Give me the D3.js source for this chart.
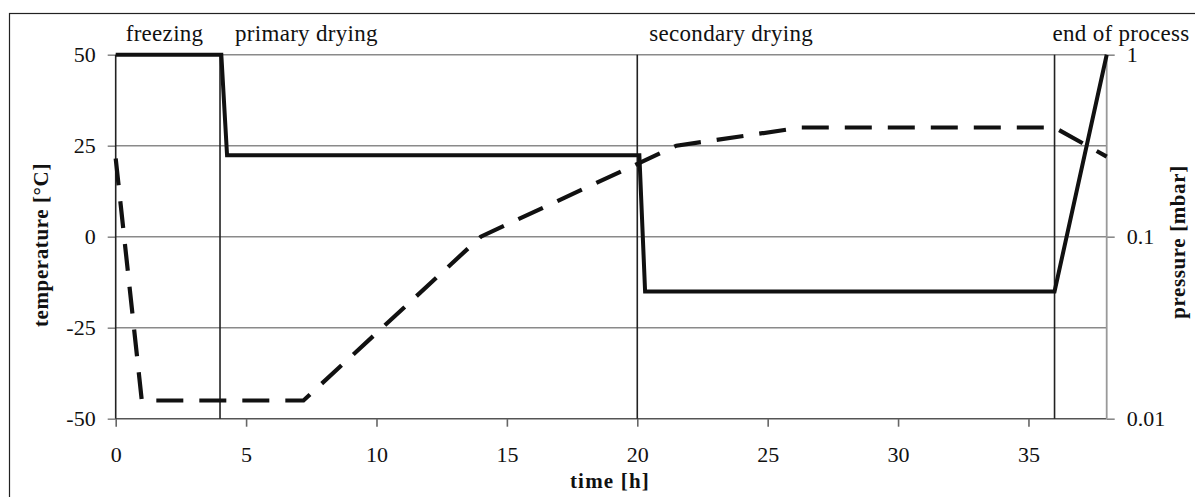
<!DOCTYPE html>
<html>
<head>
<meta charset="utf-8">
<script src="https://cdn.jsdelivr.net/npm/d3@7"></script>
<style>
  html, body { margin: 0; padding: 0; background: #fff; }
  svg { display: block; }
  text { font-family: "Liberation Serif", "Times New Roman", serif; fill: #111; }
</style>
</head>
<body>
<svg id="chart" width="1195" height="497"></svg>
<script>
// ---- data ----
const timeTicks = [0, 5, 10, 15, 20, 25, 30, 35];
const tempTicks = [-50, -25, 0, 25, 50];
const pressTicks = [0.01, 0.1, 1];
const phaseNames = ["freezing", "primary drying", "secondary drying", "end of process"];
const phaseStarts = [0, 4, 20, 36];
const phaseBounds = [4, 20, 36];

// pressure (solid line, right log axis)
const pressTime = [0, 4.05, 4.27, 20.08, 20.3, 36, 38];
const pressValue = [1, 1, 0.28, 0.28, 0.05, 0.05, 1];

// shelf temperature (dashed line, left axis)
const tempTime = [0, 1, 7.2, 14, 21.5, 26.3, 36, 38];
const tempValue = [21.5, -45, -45, 0, 25, 30, 30, 22];

// ---- layout ----
const svg = d3.select("#chart");
const L = 115.7, R = 1106.7, T = 54.7, B = 418.7;
const x = d3.scaleLinear().domain([0, 38]).range([L, R]);
const yT = d3.scaleLinear().domain([-50, 50]).range([B, T]);
const yP = d3.scaleLog().domain([0.01, 1]).range([B, T]);

const gridColor = "#8a8a8a";
const serif = "Liberation Serif";

// outer frame
svg.append("rect").attr("x", 9.5).attr("y", 13.5).attr("width", 1200).attr("height", 500)
  .attr("fill", "none").attr("stroke", "#222").attr("stroke-width", 1.2);

// horizontal gridlines
svg.append("g").selectAll("line").data(tempTicks).join("line")
  .attr("x1", L).attr("x2", R)
  .attr("y1", d => yT(d)).attr("y2", d => yT(d))
  .attr("stroke", d => d === -50 ? "#555" : gridColor).attr("stroke-width", 1.6);

// left axis
const gL = svg.append("g").attr("transform", `translate(${L},0)`)
  .call(d3.axisLeft(yT).tickValues(tempTicks).tickSize(8).tickPadding(12).tickFormat(d => String(d)));
gL.attr("font-family", serif);
gL.select(".domain").remove();
gL.selectAll(".tick line").attr("stroke", gridColor).attr("stroke-width", 1.6);
gL.selectAll(".tick text").attr("font-size", 22).attr("fill", "#111").attr("dy", "0.33em");

// right axis
const gR = svg.append("g").attr("transform", `translate(${R},0)`)
  .call(d3.axisRight(yP).tickValues(pressTicks).tickSize(8).tickPadding(12).tickFormat(d => String(d)));
gR.attr("font-family", serif);
gR.select(".domain").remove();
gR.selectAll(".tick line").attr("stroke", gridColor).attr("stroke-width", 1.6);
gR.selectAll(".tick text").attr("font-size", 22).attr("fill", "#111").attr("dy", "0.33em");

// bottom axis
const gB = svg.append("g").attr("transform", `translate(0,${B})`)
  .call(d3.axisBottom(x).tickValues(timeTicks).tickSize(8).tickPadding(20).tickFormat(d => String(d)));
gB.attr("font-family", serif);
gB.select(".domain").remove();
gB.selectAll(".tick line").attr("stroke", "#666").attr("stroke-width", 1.6);
gB.selectAll(".tick text").attr("font-size", 22).attr("fill", "#111");

// right axis line (gray)
svg.append("line").attr("x1", R).attr("x2", R).attr("y1", T).attr("y2", B)
  .attr("stroke", "#999").attr("stroke-width", 1.8);

// left axis line
svg.append("line").attr("x1", L).attr("x2", L).attr("y1", T).attr("y2", B)
  .attr("stroke", "#222").attr("stroke-width", 1.6);

// phase boundaries
svg.append("g").selectAll("line").data(phaseBounds).join("line")
  .attr("x1", d => x(d)).attr("x2", d => x(d)).attr("y1", T).attr("y2", B)
  .attr("stroke", "#222").attr("stroke-width", 1.6);

// phase labels
const labelOffsets = [10, 15, 12, -2];
svg.append("g").selectAll("text").data(phaseNames).join("text")
  .attr("x", (d, i) => x(phaseStarts[i]) + labelOffsets[i])
  .attr("y", 41)
  .attr("font-size", 23).attr("letter-spacing", 0.3)
  .text(d => d);

// temperature dashed line
const tempData = tempTime.map((t, i) => [t, tempValue[i]]);
svg.append("path").datum(tempData)
  .attr("d", d3.line().x(d => x(d[0])).y(d => yT(d[1])))
  .attr("fill", "none").attr("stroke", "#111").attr("stroke-width", 4.2)
  .attr("stroke-dasharray", "27,16");

// pressure solid line
const pressData = pressTime.map((t, i) => [t, pressValue[i]]);
svg.append("path").datum(pressData)
  .attr("d", d3.line().x(d => x(d[0])).y(d => yP(d[1])))
  .attr("fill", "none").attr("stroke", "#111").attr("stroke-width", 4)
  .attr("stroke-linejoin", "miter");

// axis titles
svg.append("text").attr("x", 610).attr("y", 488).attr("text-anchor", "middle")
  .attr("font-size", 21).attr("font-weight", "bold").attr("letter-spacing", 1.2)
  .text("time [h]");

svg.append("text").attr("transform", "translate(48,245) rotate(-90)").attr("text-anchor", "middle")
  .attr("font-size", 21).attr("font-weight", "bold").attr("letter-spacing", 0.6)
  .text("temperature [°C]");

svg.append("text").attr("transform", "translate(1185,242) rotate(-90)").attr("text-anchor", "middle")
  .attr("font-size", 21).attr("font-weight", "bold").attr("letter-spacing", 0.6)
  .text("pressure [mbar]");
</script>
</body>
</html>
